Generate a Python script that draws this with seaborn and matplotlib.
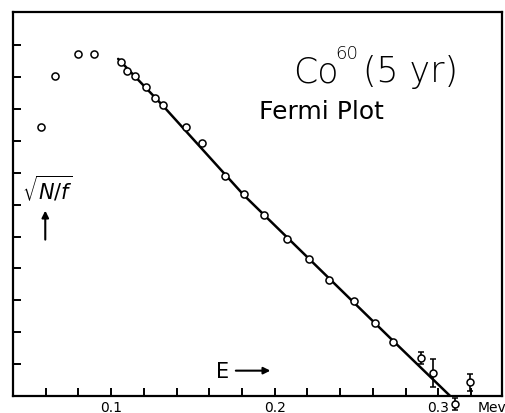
import matplotlib
matplotlib.use("Agg")
import matplotlib.pyplot as plt
import seaborn as sns
import pandas as pd

# Data points (energy in MeV, sqrt(N/f) in arbitrary units)
energy = [0.0573, 0.0659, 0.0799, 0.0896, 0.1061, 0.1098, 0.1146, 0.1213,
          0.1268, 0.1317, 0.1457, 0.1555, 0.1695, 0.1811, 0.1933, 0.2073,
          0.2207, 0.2335, 0.2488, 0.2616, 0.2726]
fermi = [8.43, 10.03, 10.72, 10.72, 10.47, 10.19, 10.03, 9.69,
         9.34, 9.12, 8.43, 7.92, 6.89, 6.32, 5.66, 4.91,
         4.31, 3.65, 2.99, 2.30, 1.70]

# Points with error bars
err_energy = [0.2896, 0.2970, 0.3104, 0.3195]
err_fermi = [1.19, 0.72, -0.25, 0.43]
err_size = [0.18, 0.45, 0.2, 0.27]

# Fitted line
line_energy = [0.1043, 0.1317, 0.1811, 0.2726, 0.3073]
line_fermi = [10.57, 9.10, 6.30, 1.72, 0.0]

xticks = [0.06, 0.08, 0.10, 0.12, 0.14, 0.16, 0.18, 0.20, 0.22, 0.24, 0.26, 0.28, 0.30, 0.32]
xtick_labels = {0.10: "0.1", 0.20: "0.2", 0.30: "0.3"}
yticks = [1, 2, 3, 4, 5, 6, 7, 8, 9, 10, 11]

sns.set_theme(style="ticks")
plt.rcParams['font.family'] = ['DejaVu Sans']
plt.rcParams['text.color'] = 'black'

fig = plt.figure(figsize=(5.05, 4.14), dpi=100)
ax = fig.add_axes([13 / 505, 1 - 397 / 414, (502 - 13) / 505, (397 - 13) / 414])

df_line = pd.DataFrame({"E": line_energy, "F": line_fermi})
sns.lineplot(data=df_line, x="E", y="F", sort=False, color="black", lw=1.8, ax=ax)

ax.errorbar(err_energy, err_fermi, yerr=err_size, fmt="o", mfc="white", mec="black",
            ms=5, mew=1.1, ecolor="black", elinewidth=1.2, capsize=2.5, capthick=1.2,
            clip_on=False, zorder=4)

df_pts = pd.DataFrame({"E": energy, "F": fermi})
sns.scatterplot(data=df_pts, x="E", y="F", marker="o", s=26, facecolor="white",
                edgecolor="black", linewidth=1.1, ax=ax, zorder=5)

ax.set_xlim(0.04, 0.339)
ax.set_ylim(0, 12.04)
ax.set_xticks(xticks)
ax.set_xticklabels([""] * len(xticks))
ax.set_yticks(yticks)
ax.set_yticklabels([])
ax.set_xlabel("")
ax.set_ylabel("")
for s in ax.spines.values():
    s.set_linewidth(1.6)
    s.set_color("black")
ax.tick_params(direction="in", length=6, width=1.4, colors="black")

trans = ax.get_xaxis_transform()
for v, lab in xtick_labels.items():
    ax.annotate(lab, xy=(v, 0), xycoords=trans, xytext=(0, -3), textcoords="offset points",
                ha="center", va="top", fontsize=10, color="black")
ax.annotate("Mev", xy=(0.3326, 0), xycoords=trans, xytext=(0, -3), textcoords="offset points",
            ha="center", va="top", fontsize=10, color="black")

# Title pieces: "Co" + superscript "60" + "(5 yr)"
ax.text(0.573, 0.82, "Co", transform=ax.transAxes, ha="left", va="baseline",
        fontsize=25, fontweight="light", color="black")
ax.text(0.658, 0.88, "60", transform=ax.transAxes, ha="left", va="baseline",
        fontsize=13, fontweight="light", color="black")
ax.text(0.715, 0.82, "(5 yr)", transform=ax.transAxes, ha="left", va="baseline",
        fontsize=25, fontweight="light", color="black")
ax.text(0.63, 0.742, "Fermi Plot", transform=ax.transAxes, ha="center", va="center",
        fontsize=18, color="black")

ax.text(0.07, 0.545, r"$\sqrt{N/f}$", transform=ax.transAxes, ha="center", va="center",
        fontsize=15, color="black")
ax.annotate("", xy=(0.066, 0.49), xytext=(0.066, 0.40), xycoords="axes fraction",
            arrowprops=dict(arrowstyle="-|>", color="black", lw=1.5, mutation_scale=10))

ax.text(0.428, 0.066, "E", transform=ax.transAxes, ha="center", va="center", fontsize=15,
        color="black")
ax.annotate("", xy=(0.532, 0.066), xytext=(0.45, 0.066), xycoords="axes fraction",
            arrowprops=dict(arrowstyle="-|>", color="black", lw=1.5, mutation_scale=10))

fig.savefig("out.png", dpi=100)
